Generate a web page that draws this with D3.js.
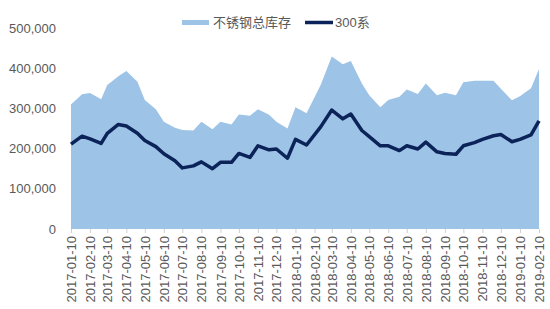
<!DOCTYPE html>
<html><head><meta charset="utf-8">
<script src="https://cdn.jsdelivr.net/npm/d3@7"></script>
<style>body{margin:0;background:#fff;}svg{display:block;font-family:Arial,"Liberation Sans","Noto Sans CJK SC",sans-serif;}</style>
</head><body><svg id="c" width="550" height="309"></svg>
<script>
const dates = ["2017-01-10","2017-01-28","2017-02-10","2017-02-28","2017-03-10","2017-03-28","2017-04-10","2017-04-28","2017-05-10","2017-05-28","2017-06-10","2017-06-28","2017-07-10","2017-07-28","2017-08-10","2017-08-28","2017-09-10","2017-09-28","2017-10-10","2017-10-28","2017-11-10","2017-11-28","2017-12-10","2017-12-28","2018-01-10","2018-01-28","2018-02-20","2018-03-10","2018-03-28","2018-04-10","2018-04-28","2018-05-10","2018-05-28","2018-06-10","2018-06-28","2018-07-10","2018-07-28","2018-08-10","2018-08-28","2018-09-10","2018-09-28","2018-10-10","2018-10-28","2018-11-10","2018-11-28","2018-12-10","2018-12-28","2019-01-10","2019-01-28","2019-02-10"];
const totalStock = [310000,335000,338000,323000,358000,380000,393000,366000,321000,298000,267000,252000,246000,245000,267000,248000,267000,260000,285000,282000,298000,284000,267000,250000,303000,288000,358000,429000,410000,418000,362000,333000,303000,321000,329000,347000,336000,362000,333000,339000,333000,365000,369000,369000,369000,349000,320000,330000,350000,398000];
const series300 = [211000,231000,224000,213000,238000,260000,256000,238000,220000,205000,187000,170000,152000,157000,167000,150000,166000,166000,188000,178000,207000,197000,199000,176000,223000,209000,254000,296000,274000,286000,245000,230000,207000,207000,195000,207000,199000,216000,192000,188000,186000,207000,215000,223000,232000,235000,217000,223000,234000,269000];
const tickLabels = ["2017-01-10","2017-02-10","2017-03-10","2017-04-10","2017-05-10","2017-06-10","2017-07-10","2017-08-10","2017-09-10","2017-10-10","2017-11-10","2017-12-10","2018-01-10","2018-02-10","2018-03-10","2018-04-10","2018-05-10","2018-06-10","2018-07-10","2018-08-10","2018-09-10","2018-10-10","2018-11-10","2018-12-10","2019-01-10","2019-02-10"];
const yTicks = [0,100000,200000,300000,400000,500000];
const seriesNames = ["不锈钢总库存","300系"];

const parse = d3.timeParse("%Y-%m-%d");
const data = dates.map((d,i)=>({date:parse(d), total:totalStock[i], s300:series300[i]}));
const svg = d3.select("#c");
const m = {left:71, right:11, top:28, bottom:80};
const W = 550, H = 309;
const x = d3.scaleTime().domain([parse(tickLabels[0]), parse(tickLabels[tickLabels.length-1])]).range([m.left, W-m.right]);
const y = d3.scaleLinear().domain([0,500000]).range([H-m.bottom, m.top]);

svg.append("path").datum(data)
  .attr("fill","#9dc3e6")
  .attr("d", d3.area().x(d=>x(d.date)).y0(y(0)).y1(d=>y(d.total)));

svg.append("path").datum(data)
  .attr("fill","none").attr("stroke","#0b2358").attr("stroke-width",3.5).attr("stroke-linejoin","round")
  .attr("d", d3.line().x(d=>x(d.date)).y(d=>y(d.s300)));

// y axis
const ya = svg.append("g").attr("transform",`translate(${m.left},0)`)
  .call(d3.axisLeft(y).tickValues(yTicks).tickSize(0).tickPadding(15).tickFormat(d3.format(",")));
ya.select(".domain").remove();
ya.selectAll("text").attr("fill","#595959").style("font-size","13px");

// x axis
const xa = svg.append("g").attr("transform",`translate(0,${y(0)})`)
  .call(d3.axisBottom(x).tickValues(tickLabels.map(parse)).tickSize(4).tickFormat(d3.timeFormat("%Y-%m-%d")));
xa.select(".domain").remove();
xa.selectAll(".tick line").attr("stroke","#d0d0d0");
xa.selectAll("text").attr("fill","#595959").style("font-size","13px")
  .attr("transform","rotate(-90)").attr("text-anchor","end").attr("x",-7).attr("y",0).attr("dy","0.35em");

// legend
const lg = svg.append("g");
lg.append("rect").attr("x",182).attr("y",20).attr("width",27).attr("height",5).attr("fill","#9dc3e6");
lg.append("text").attr("x",213).attr("y",27).text(seriesNames[0]).attr("fill","#595959").style("font-size","13px");
lg.append("line").attr("x1",305).attr("x2",333).attr("y1",22.5).attr("y2",22.5).attr("stroke","#0b2358").attr("stroke-width",3.5);
lg.append("text").attr("x",335).attr("y",27).text(seriesNames[1]).attr("fill","#595959").style("font-size","13px");
</script></body></html>
